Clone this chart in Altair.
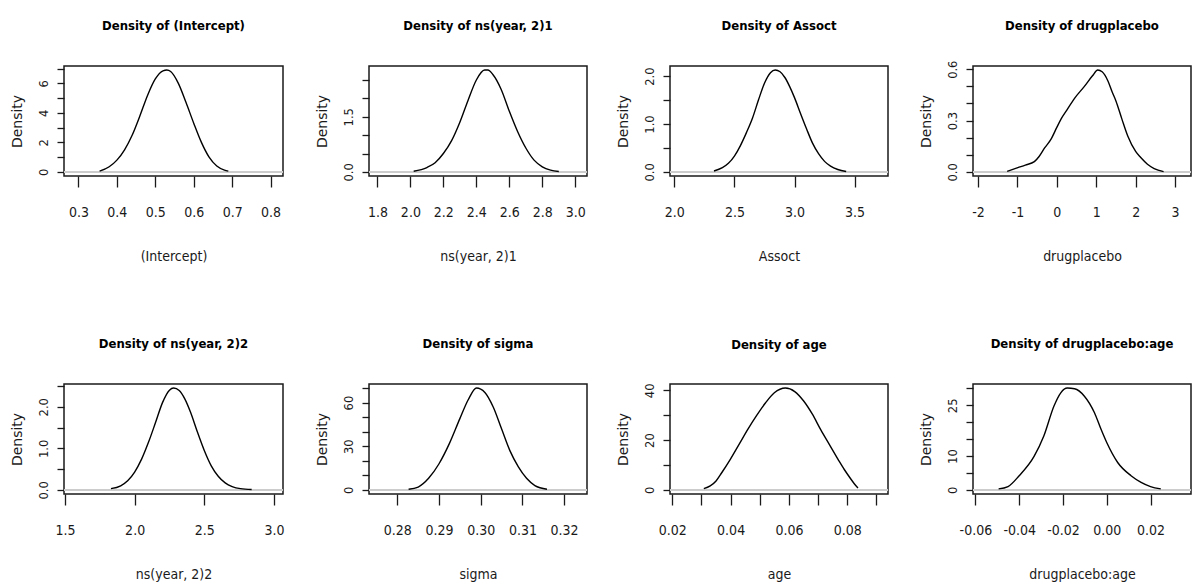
import altair as alt
import pandas as pd

# ---------------- data ----------------
PARAMS = ["(Intercept)", "ns(year, 2)1", "Assoct", "drugplacebo",
          "ns(year, 2)2", "sigma", "age", "drugplacebo:age"]

INTERCEPT_X = [0.355, 0.38, 0.40, 0.42, 0.44, 0.46, 0.48, 0.50, 0.52, 0.53, 0.54, 0.56, 0.58, 0.60, 0.62, 0.64, 0.66, 0.68, 0.69]
INTERCEPT_Y = [0.05, 0.35, 0.8, 1.5, 2.5, 3.8, 5.2, 6.3, 6.85, 6.9, 6.8, 6.0, 4.7, 3.3, 2.0, 1.0, 0.4, 0.12, 0.05]

NS1_X = [2.02, 2.10, 2.15, 2.20, 2.25, 2.30, 2.35, 2.40, 2.45, 2.47, 2.50, 2.55, 2.60, 2.65, 2.70, 2.75, 2.80, 2.85, 2.90]
NS1_Y = [0.02, 0.12, 0.25, 0.5, 0.85, 1.35, 1.95, 2.5, 2.77, 2.77, 2.65, 2.25, 1.65, 1.1, 0.65, 0.32, 0.14, 0.05, 0.01]

ASSOCT_X = [2.33, 2.40, 2.45, 2.50, 2.55, 2.60, 2.65, 2.70, 2.75, 2.80, 2.84, 2.88, 2.92, 2.96, 3.00, 3.05, 3.10, 3.15, 3.20, 3.25, 3.30, 3.36, 3.43]
ASSOCT_Y = [0.02, 0.09, 0.18, 0.33, 0.55, 0.82, 1.12, 1.5, 1.85, 2.07, 2.125, 2.09, 1.97, 1.78, 1.55, 1.22, 0.9, 0.6, 0.38, 0.22, 0.12, 0.05, 0.01]

DRUG_X = [-1.26, -0.99, -0.80, -0.57, -0.45, -0.31, -0.15, 0.0, 0.11, 0.25, 0.45, 0.70, 0.90, 1.04, 1.15, 1.30, 1.40, 1.50, 1.65, 1.80, 2.00, 2.13, 2.30, 2.47, 2.71]
DRUG_Y = [0.003, 0.025, 0.04, 0.06, 0.09, 0.14, 0.19, 0.26, 0.31, 0.36, 0.43, 0.50, 0.56, 0.595, 0.585, 0.53, 0.47, 0.415, 0.31, 0.21, 0.12, 0.084, 0.045, 0.02, 0.002]

NS2_X = [1.83, 1.90, 1.95, 2.00, 2.05, 2.10, 2.15, 2.20, 2.25, 2.28, 2.32, 2.36, 2.40, 2.45, 2.50, 2.55, 2.60, 2.65, 2.70, 2.76, 2.84]
NS2_Y = [0.03, 0.1, 0.22, 0.43, 0.74, 1.15, 1.62, 2.1, 2.4, 2.45, 2.39, 2.19, 1.88, 1.4, 0.95, 0.58, 0.33, 0.17, 0.08, 0.03, 0.01]

SIGMA_X = [0.2827, 0.285, 0.2875, 0.29, 0.2925, 0.295, 0.297, 0.299, 0.301, 0.303, 0.305, 0.307, 0.309, 0.311, 0.313, 0.3159]
SIGMA_Y = [0.5, 2, 8, 18, 32, 49, 62, 70, 67, 57, 42, 27, 16, 8, 3, 0.5]

AGE_X = [0.0308, 0.033, 0.035, 0.037, 0.040, 0.043, 0.046, 0.049, 0.052, 0.055, 0.0588, 0.062, 0.065, 0.068, 0.071, 0.074, 0.077, 0.079, 0.081, 0.0825, 0.0837]
AGE_Y = [0.5, 1.6, 3.6, 7, 12.5, 18.5, 24.5, 30, 35, 39, 40.9, 39.5, 35.8, 30.5, 24, 18, 12, 8.2, 4.8, 2.4, 0.8]

DRUGAGE_X = [-0.0494, -0.0451, -0.04, -0.0332, -0.0287, -0.0241, -0.021, -0.018, -0.0147, -0.0102, -0.0056, -0.0026, 0.0, 0.005, 0.0111, 0.0157, 0.02, 0.0247]
DRUGAGE_Y = [0.3, 1, 4.2, 9.9, 16, 24.8, 28.7, 30.1, 29.9, 27.7, 22.8, 17.9, 14, 8.1, 4.2, 2.25, 1, 0.3]

XS = [INTERCEPT_X, NS1_X, ASSOCT_X, DRUG_X, NS2_X, SIGMA_X, AGE_X, DRUGAGE_X]
YS = [INTERCEPT_Y, NS1_Y, ASSOCT_Y, DRUG_Y, NS2_Y, SIGMA_Y, AGE_Y, DRUGAGE_Y]

X_DOMAINS = [[0.2624, 0.8323], [1.749, 3.071], [1.964, 3.778], [-2.127, 3.405],
             [1.493, 3.065], [0.2732, 0.3255], [0.0192, 0.094], [-0.0611, 0.0385]]

X_TICKS = [[0.3, 0.4, 0.5, 0.6, 0.7, 0.8],
           [1.8, 2.0, 2.2, 2.4, 2.6, 2.8, 3.0],
           [2.0, 2.5, 3.0, 3.5],
           [-2, -1, 0, 1, 2, 3],
           [1.5, 2.0, 2.5, 3.0],
           [0.28, 0.29, 0.30, 0.31, 0.32],
           [0.02, 0.03, 0.04, 0.05, 0.06, 0.07, 0.08, 0.09],
           [-0.06, -0.04, -0.02, 0.0, 0.02]]
X_LABELS = [["0.3", "0.4", "0.5", "0.6", "0.7", "0.8"],
            ["1.8", "2.0", "2.2", "2.4", "2.6", "2.8", "3.0"],
            ["2.0", "2.5", "3.0", "3.5"],
            ["-2", "-1", "0", "1", "2", "3"],
            ["1.5", "2.0", "2.5", "3.0"],
            ["0.28", "0.29", "0.30", "0.31", "0.32"],
            ["0.02", "", "0.04", "", "0.06", "", "0.08", ""],
            ["-0.06", "-0.04", "-0.02", "0.00", "0.02"]]

Y_TICKS = [[0, 1, 2, 3, 4, 5, 6, 7],
           [0.0, 0.5, 1.0, 1.5, 2.0, 2.5],
           [0.0, 0.5, 1.0, 1.5, 2.0],
           [0.0, 0.1, 0.2, 0.3, 0.4, 0.5, 0.6],
           [0.0, 0.5, 1.0, 1.5, 2.0, 2.5],
           [0, 10, 20, 30, 40, 50, 60, 70],
           [0, 10, 20, 30, 40],
           [0, 5, 10, 15, 20, 25, 30]]
Y_LABELS = [["0", "", "2", "", "4", "", "6", ""],
            ["0.0", "", "", "1.5", "", ""],
            ["0.0", "", "1.0", "", "2.0"],
            ["0.0", "", "", "0.3", "", "", "0.6"],
            ["0.0", "", "1.0", "", "2.0", ""],
            ["0", "", "", "30", "", "", "60", ""],
            ["0", "", "20", "", "40"],
            ["0", "", "10", "", "", "25", ""]]

ZERO_LINE = [0]

# ---------------- styling ----------------
NARROW = "Liberation Sans Narrow, DejaVu Sans Condensed, Liberation Sans, Arial"
WIDE = "DejaVu Sans, Liberation Sans"
INK = "#1a1a1a"
PLOT_W = [219, 218, 218, 218]
PLOT_H = 110
# top labels that poke above the frame lift their panel's title
TITLE_DY = [0, 0, 0, 6, 0, 0, 2, 0]


def label_expr(ticks, labels):
    parts = []
    for t, l in zip(ticks, labels):
        if l:
            parts.append(f"datum.value == {t!r} ? '{l}' : ")
    return "".join(parts) + "''"


def panel(i):
    df = pd.DataFrame({"x": XS[i], "y": YS[i]})
    pk = max(YS[i])
    xscale = alt.Scale(domain=X_DOMAINS[i], nice=False, zero=False)
    yscale = alt.Scale(domain=[-0.04 * pk, 1.04 * pk], nice=False, zero=False)
    xaxis = alt.Axis(
        title=PARAMS[i], values=X_TICKS[i], labelExpr=label_expr(X_TICKS[i], X_LABELS[i]),
        domain=False, grid=False, tickSize=11, tickWidth=1.3, tickColor=INK,
        labelFont=NARROW, labelFontSize=14, labelColor=INK, labelPadding=18,
        labelOverlap=False, labelFlush=False,
        titleFont=NARROW, titleFontSize=14, titleFontWeight="normal", titleColor=INK,
        titlePadding=30,
    )
    yaxis = alt.Axis(
        title="Density", values=Y_TICKS[i], labelExpr=label_expr(Y_TICKS[i], Y_LABELS[i]),
        domain=False, grid=False, tickSize=7, tickWidth=1.3, tickColor=INK,
        labelFont=WIDE, labelFontSize=11.5, labelColor=INK, labelPadding=10,
        labelAngle=270, labelAlign="center", labelBaseline="alphabetic",
        labelOverlap=False, labelFlush=False,
        titleFont=WIDE, titleFontSize=14, titleFontWeight="normal", titleColor=INK,
        titlePadding=14,
    )
    zero = alt.Chart(pd.DataFrame({"z": ZERO_LINE})).mark_rule(
        color="#cccccc", strokeWidth=2
    ).encode(y=alt.Y("z:Q", scale=yscale, axis=yaxis))
    line = alt.Chart(df).mark_line(
        color="black", strokeWidth=1.4, interpolate="monotone"
    ).encode(
        x=alt.X("x:Q", scale=xscale, axis=xaxis),
        y=alt.Y("y:Q", scale=yscale, axis=yaxis),
    )
    title_kw = dict(font=NARROW, fontSize=13, fontWeight="bold", color="black",
                    offset=33, frame="group")
    if TITLE_DY[i]:
        title_kw["dy"] = TITLE_DY[i]
    return alt.layer(zero, line).properties(
        width=PLOT_W[i % 4], height=PLOT_H,
        title=alt.Title(f"Density of {PARAMS[i]}", **title_kw),
    )


def row(start):
    p = [panel(start + k) for k in range(4)]
    left = alt.hconcat(p[0], p[1], spacing=86, bounds="flush")
    right = alt.hconcat(p[2], p[3], spacing=85, bounds="flush")
    return alt.hconcat(left, right, spacing=26, bounds="full")


chart = alt.vconcat(row(0), row(4), spacing=73, bounds="full").properties(
    padding={"left": 9, "top": 19, "right": 0, "bottom": 0},
    background="white",
).configure_view(stroke=INK, strokeWidth=1.5).configure_axis(labelBound=False)

chart.save("out.html", embed_options={"renderer": "svg", "actions": False})
